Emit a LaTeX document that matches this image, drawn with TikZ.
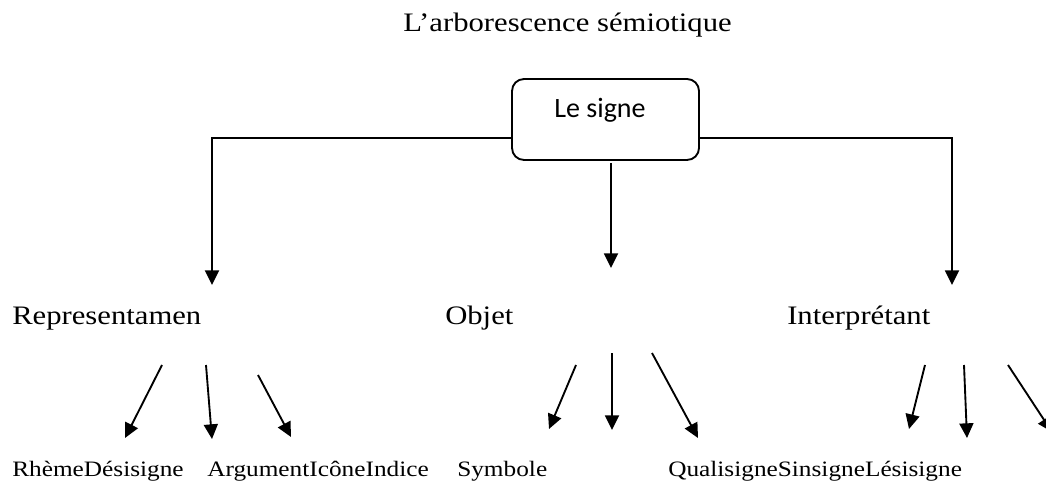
\documentclass[tikz,border=0pt]{standalone}
\usepackage{fontspec}
\setmainfont[FakeStretch=1.15]{Liberation Serif}
\newfontfamily\boxfont{Carlito}
\usetikzlibrary{arrows.meta}
\tikzset{
  level/.style={inner sep=0, anchor=base west, font=\fontsize{20}{24}\selectfont},
  leaf/.style={inner sep=0, anchor=base west, font=\fontsize{16.5}{20}\selectfont},
  link/.style={line width=1.4pt, -{Triangle[length=11pt,width=10.5pt]}},
  signebox/.style={draw, line width=1.4pt, rounded corners=9pt, minimum width=140.25pt, minimum height=60.75pt, inner sep=0}
}
\begin{document}
\begin{tikzpicture}[x=0.75pt,y=-0.75pt]
    \useasboundingbox (0,0) rectangle (1046,495);
    % titre et racine
    \node[level] (titre) at (403,32) {L’arborescence sémiotique};
    \node[signebox] (signe) at (605.5,119.5) {};
    \node[inner sep=0, anchor=base, font=\boxfont\fontsize{21}{25}\selectfont] (signetxt) at (600,118) {Le signe};
    % premier niveau
    \node[level] (repr) at (12,325) {Representamen};
    \node[level] (objet) at (445,325) {Objet};
    \node[level] (interp) at (787,325) {Interprétant};
    % second niveau
    \node[leaf] (rheme) at (12,476) {RhèmeDésisigne};
    \node[leaf] (argument) at (207,476) {ArgumentIcôneIndice};
    \node[leaf] (symbole) at (457,476) {Symbole};
    \node[leaf] (quali) at (668,476) {QualisigneSinsigneLésisigne};
    % branches
    \coordinate (hauteur) at (0,138);
    \coordinate (gauche) at (212,285);
    \coordinate (milieuhaut) at (611,163);
    \coordinate (milieu) at (611,268);
    \coordinate (droite) at (952,285);
    \draw[link] (signe.west |- hauteur) -| (gauche);
    \draw[link] (signe.east |- hauteur) -| (droite);
    \draw[link] (milieuhaut) -- (milieu);
    % fleches du second niveau
    \coordinate (r1a) at (162,365); \coordinate (r1b) at (125,438);
    \coordinate (r2a) at (206,365); \coordinate (r2b) at (212,439);
    \coordinate (r3a) at (258,375); \coordinate (r3b) at (291,437);
    \coordinate (o1a) at (576,365); \coordinate (o1b) at (549,429);
    \coordinate (o2a) at (612,353); \coordinate (o2b) at (612,430);
    \coordinate (o3a) at (652,353); \coordinate (o3b) at (698,438);
    \coordinate (i1a) at (925,365); \coordinate (i1b) at (909,429);
    \coordinate (i2a) at (964,365); \coordinate (i2b) at (967,438);
    \coordinate (i3a) at (1008,365); \coordinate (i3b) at (1052,432);
    \draw[link] (r1a) -- (r1b);
    \draw[link] (r2a) -- (r2b);
    \draw[link] (r3a) -- (r3b);
    \draw[link] (o1a) -- (o1b);
    \draw[link] (o2a) -- (o2b);
    \draw[link] (o3a) -- (o3b);
    \draw[link] (i1a) -- (i1b);
    \draw[link] (i2a) -- (i2b);
    \draw[link] (i3a) -- (i3b);
\end{tikzpicture}
\end{document}
